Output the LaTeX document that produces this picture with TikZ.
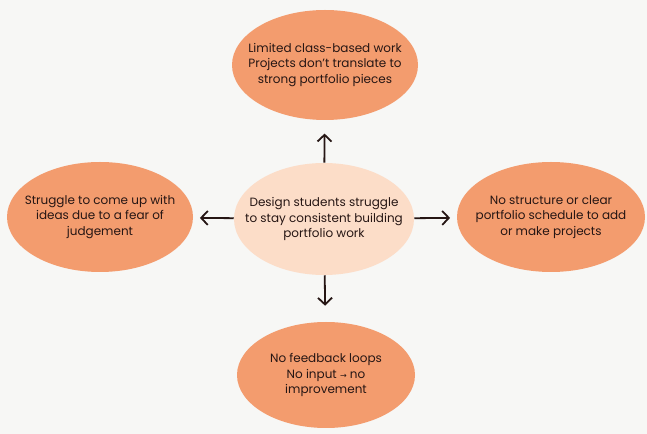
\documentclass[tikz,border=0pt]{standalone}
\usepackage{fontspec}
\setmainfont{Poppins}
\newfontfamily\arrowfont{DejaVu Sans}
\usetikzlibrary{shapes.geometric,arrows.meta}

\definecolor{bgGray}{RGB}{247,247,245}
\definecolor{causeOrange}{RGB}{243,156,110}
\definecolor{corePeach}{RGB}{252,221,200}
\definecolor{inkDark}{RGB}{38,22,20}

\tikzset{
  bubble/.style={ellipse, fill=causeOrange, inner sep=0pt},
  corebubble/.style={bubble, fill=corePeach},
  bubbletext/.style={align=center, inner sep=0pt, text=inkDark,
    font=\fontsize{9}{11.6}\selectfont},
  arr/.style={-{Straight Barb[length=5pt,width=10.5pt]}, line width=1.35pt, draw=inkDark}
}

\begin{document}
\begin{tikzpicture}[x=0.75pt, y=-0.75pt]
        % Background
        \useasboundingbox (0,0) rectangle (647,434);
        \fill[bgGray] (0,0) rectangle (647,434);
        
        % Central problem
        \node[corebubble, minimum width=135pt, minimum height=84pt] (core) at (324,219) {};
        \node[bubbletext] (coretext) at (core)
          {Design students struggle\\to stay consistent building\\portfolio work};
        
        % Causes around it
        \node[bubble, minimum width=139.5pt, minimum height=82.5pt] (top) at (325,65) {};
        \node[bubbletext] (toptext) at (top)
          {Limited class-based work\\Projects don't translate to\\strong portfolio pieces};
        \node[bubble, minimum width=133.5pt, minimum height=79.5pt] (bottom) at (326,375) {};
        \node[bubbletext] (bottomtext) at (bottom)
          {No feedback loops\\No input {\arrowfont\fontsize{6}{6}\selectfont→} no\\improvement};
        \node[bubble, minimum width=139.5pt, minimum height=82.5pt] (left) at (100,217) {};
        \node[bubbletext] (lefttext) at (left)
          {Struggle to come up with\\ideas due to a fear of\\judgement};
        \node[bubble, minimum width=141pt, minimum height=82.5pt] (right) at (551,217) {};
        \node[bubbletext] (righttext) at (right)
          {No structure or clear\\portfolio schedule to add\\or make projects};
        
        % Arrows
        \draw[arr, shorten >=10pt] (core) -- (top);
        \draw[arr, shorten >=12pt] (core) -- (bottom);
        \draw[arr, shorten >=5pt] (core) -- (left);
        \draw[arr, shorten >=5pt] (core) -- (right);
    \end{tikzpicture}
\end{document}
